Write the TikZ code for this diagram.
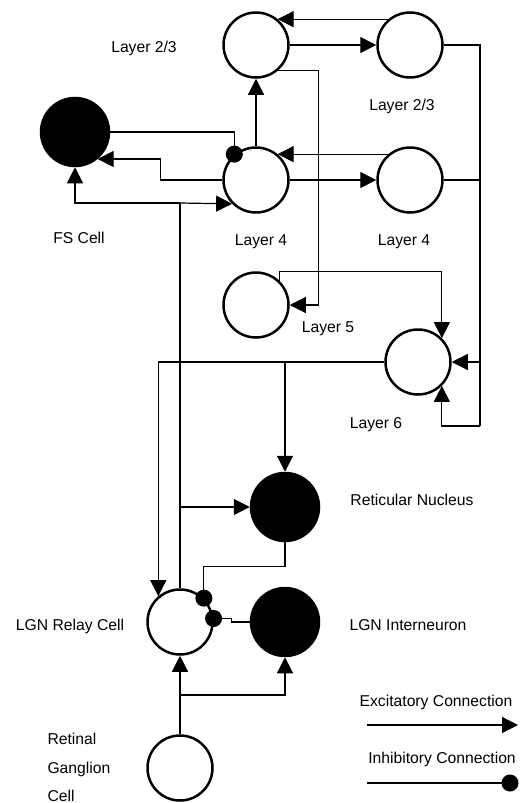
\documentclass[tikz,border=0pt]{standalone}
\usepackage{fontspec}
\setmainfont{Liberation Sans}
\usetikzlibrary{arrows.meta}

\begin{document}
\begin{tikzpicture}[x=1pt,y=-1pt]
		\tikzstyle{every node}=[font=\fontsize{15.7}{18}\selectfont]
		\tikzstyle{cell}=[circle, draw, line width=2.5pt, minimum size=65pt, inner sep=0pt]
		\tikzstyle{fcell}=[cell, fill=black, minimum size=68pt]
		\tikzstyle{wire}=[line width=1.2pt]
		\tikzstyle{exc}=[wire, -{Triangle[length=16pt,width=16pt]}]
		\tikzstyle{inh}=[wire, -{Circle[length=17pt]}, shorten >=-8.5pt]
		\useasboundingbox (0,0) rectangle (528,803);
		% cells
		\node [cell] (L23a) at (256,45) {};
		\node [cell] (L23b) at (410,45) {};
		\node [fcell] (FS) at (75,132) {};
		\node [cell] (L4a) at (256,180) {};
		\node [cell] (L4b) at (410,180) {};
		\node [cell] (L5) at (256,305) {};
		\node [cell] (L6) at (418,362) {};
		\node [fcell] (Ret) at (285,507) {};
		\node [cell] (LGN) at (180,622) {};
		\node [fcell] (Int) at (285,622) {};
		\node [cell] (RGC) at (180,768) {};
		% junctions
		\coordinate (rt) at (480,45);
		\coordinate (rb) at (480,426);
		\coordinate (j1) at (180,203);
		\coordinate (j2) at (180,695);
		% cortex
		\draw [exc] (L23a) -- (L23b);
		\draw [exc] (L23b.130) -- (L23a.50);
		\draw [exc] (L4a) -- (L4b);
		\draw [exc] (L4b.130) -- (L4a.50);
		\draw [exc] (L4a.north) -- (L23a.south);
		\draw [wire] (L23b.east) -- (rt) -- (rb);
		\draw [wire] (L4b.east) -- (L4b.east -| rt);
		\draw [exc] (L6.east -| rt) -- (L6.east);
		\draw [exc] (rb) -| (L6.-45);
		\draw [exc] (L5.45) -- ++(0,-10) -| (L6.45);
		\draw [exc] (L23a.-50) -- ++(41,0) |- (L5.east);
		\draw [exc] (L4a.west) -- ++(-62,0) |- (FS.-50);
		\draw [inh] (FS.east) -| (L4a.130);
		% thalamus
		\draw [wire] (LGN.north) -- (j1);
		\draw [exc] (j1) -| (FS.south);
		\draw [exc] (j1) -- (L4a.-135);
		\draw [exc] (LGN.north |- Ret.west) -- (Ret.west);
		\draw [exc] (L6.west) -| (LGN.130);
		\draw [exc] (Ret.north |- L6.west) -- (Ret.north);
		\draw [inh] (Ret.south) -- ++(0,24) -| (LGN.45);
		\draw [inh] (Int.west) -- ++(-18,0) |- (LGN.6);
		\draw [exc] (RGC.north) -- (LGN.south);
		\draw [exc] (j2) -| (Int.south);
		% labels
		\node [anchor=base] at (144,52) {Layer 2/3};
		\node [anchor=base] at (402,110) {Layer 2/3};
		\node [anchor=base] at (79,243) {FS Cell};
		\node [anchor=base] at (261,245) {Layer 4};
		\node [anchor=base] at (404,245) {Layer 4};
		\node [anchor=base] at (328,332) {Layer 5};
		\node [anchor=base] at (376,428) {Layer 6};
		\node [anchor=base] at (412,505) {Reticular Nucleus};
		\node [anchor=base] at (70,630) {LGN Relay Cell};
		\node [anchor=base] at (408,630) {LGN Interneuron};
		\node [anchor=base west] at (44,744) {Retinal};
		\node [anchor=base west] at (44,773) {Ganglion};
		\node [anchor=base west] at (44,801) {Cell};
		% legend
		\coordinate (ea) at (367,725);
		\coordinate (eb) at (518,725);
		\coordinate (ia) at (367,783);
		\coordinate (ib) at (510,783);
		\node [anchor=base] at (436,706) {Excitatory Connection};
		\node [anchor=base] at (442,763) {Inhibitory Connection};
		\draw [exc] (ea) -- (eb);
		\draw [inh] (ia) -- (ib);
	\end{tikzpicture}
\end{document}
